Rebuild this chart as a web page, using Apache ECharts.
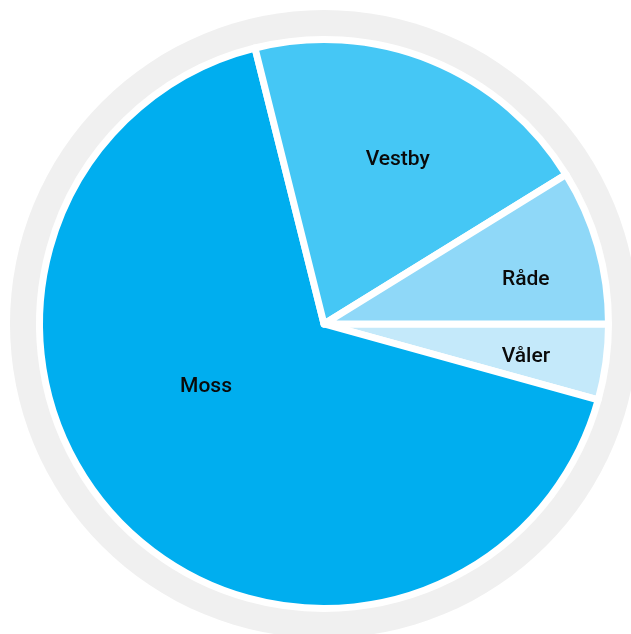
<!DOCTYPE html>
<html>
<head>
<meta charset="utf-8">
<script src="https://cdn.jsdelivr.net/npm/echarts@6/dist/echarts.min.js"></script>
<style>
html,body{margin:0;padding:0;background:#fff;}
#chart{width:631px;height:634px;}
</style>
</head>
<body>
<div id="chart"></div>
<script>
// Data (clockwise from 3 o'clock)
const categories = ['Våler', 'Moss', 'Vestby', 'Råde'];
const values = [4.3, 66.8, 20.1, 8.8];
const colors = ['#C4E9FA', '#00AEEF', '#45C7F5', '#8FD8F8'];
// label nudges relative to default inside placement (style only)
const labelNudge = [[58, 13], [-14, -39], [19, -30], [62, -5]];

const chart = echarts.init(document.getElementById('chart'), null, {renderer: 'canvas'});
const option = {
  animation: false,
  series: [
    {
      type: 'pie',
      silent: true,
      center: [324, 324],
      radius: 314,
      z: 1,
      label: {show: false},
      labelLine: {show: false},
      emphasis: {disabled: true},
      itemStyle: {color: '#F0F0F0'},
      data: [{value: 1, name: 'ring'}]
    },
    {
      type: 'pie',
      z: 2,
      center: [324, 324],
      radius: 284.5,
      startAngle: 0,
      clockwise: true,
      avoidLabelOverlap: false,
      emphasis: {disabled: true},
      itemStyle: {borderColor: '#ffffff', borderWidth: 7},
      label: {
        show: true,
        position: 'inside',
        formatter: '{b}',
        color: '#0a0a0a',
        fontFamily: 'Roboto',
        fontWeight: 500,
        fontSize: 21
      },
      labelLine: {show: false},
      labelLayout: function (p) {
        const n = labelNudge[p.dataIndex];
        return {dx: n[0], dy: n[1]};
      },
      data: categories.map((c, i) => ({name: c, value: values[i], itemStyle: {color: colors[i]}}))
    }
  ]
};
chart.setOption(option);
</script>
</body>
</html>
